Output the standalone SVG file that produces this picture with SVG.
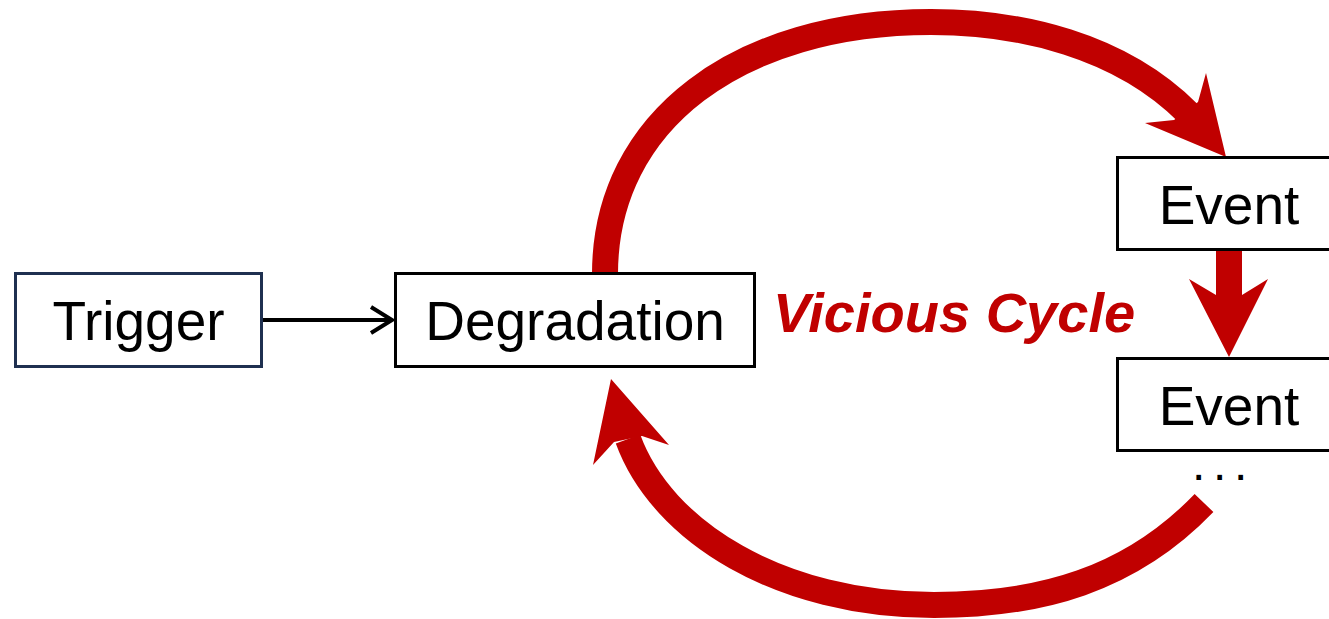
<svg xmlns="http://www.w3.org/2000/svg" width="1329" height="619" viewBox="0 0 1329 619">
<style>
.box{fill:#fff;stroke:#000;stroke-width:3}
.lbl{font-family:"Liberation Sans",Arial,sans-serif;font-size:55px;fill:#000;text-anchor:middle}
.red{fill:#C00000}
.arc{fill:none;stroke:#C00000;stroke-width:26;stroke-linecap:butt}
</style>
<rect width="1329" height="619" fill="#fff"/>
<g id="connectors">
<g id="trigger-to-degradation">
<line x1="262" y1="320" x2="391" y2="320" stroke="#000" stroke-width="4"/>
<polyline points="371,307 392,320 371,333" fill="none" stroke="#000" stroke-width="4" stroke-linejoin="miter"/>
</g>
<g id="cycle-top">
<path class="arc" d="M605,274 C605,120 740,22 931,22 C1020,22 1120,45 1188,113"/>
<polygon class="red" points="1174,120 1145,123 1226,157 1206,73 1198,102"/>
</g>
<g id="event-to-event">
<polygon class="red" points="1216,249 1242,249 1242,295 1268,279 1229,357 1189,279 1216,295"/>
</g>
<g id="cycle-bottom">
<path class="arc" d="M1204,503 C1130,580 1040,605 934,605 C780,605 662,532 628,439"/>
<polygon class="red" points="614,442 593,465 611,379 669,445 642,436"/>
</g>
</g>
<g id="trigger">
<rect x="15.5" y="273.5" width="246" height="93" fill="#fff" stroke="#1F3050" stroke-width="3"/>
<text class="lbl" x="138.5" y="340">Trigger</text>
</g>
<g id="degradation">
<rect class="box" x="395.5" y="273.5" width="359" height="93"/>
<text class="lbl" x="575" y="340">Degradation</text>
</g>
<g id="event1">
<rect class="box" x="1117.5" y="157.5" width="224" height="92"/>
<text class="lbl" x="1229" y="224">Event</text>
</g>
<g id="event2">
<rect class="box" x="1117.5" y="358.5" width="224" height="92"/>
<text class="lbl" x="1229" y="425">Event</text>
</g>
<g id="ellipsis">
<text x="1192" y="480" font-family="'Liberation Sans',Arial,sans-serif" font-size="48" letter-spacing="7.7" fill="#000">...</text>
</g>
<g id="vicious-cycle-label">
<text x="773" y="332" font-family="'Liberation Sans',Arial,sans-serif" font-size="56" font-weight="bold" font-style="italic" fill="#C00000">Vicious Cycle</text>
</g>
</svg>
